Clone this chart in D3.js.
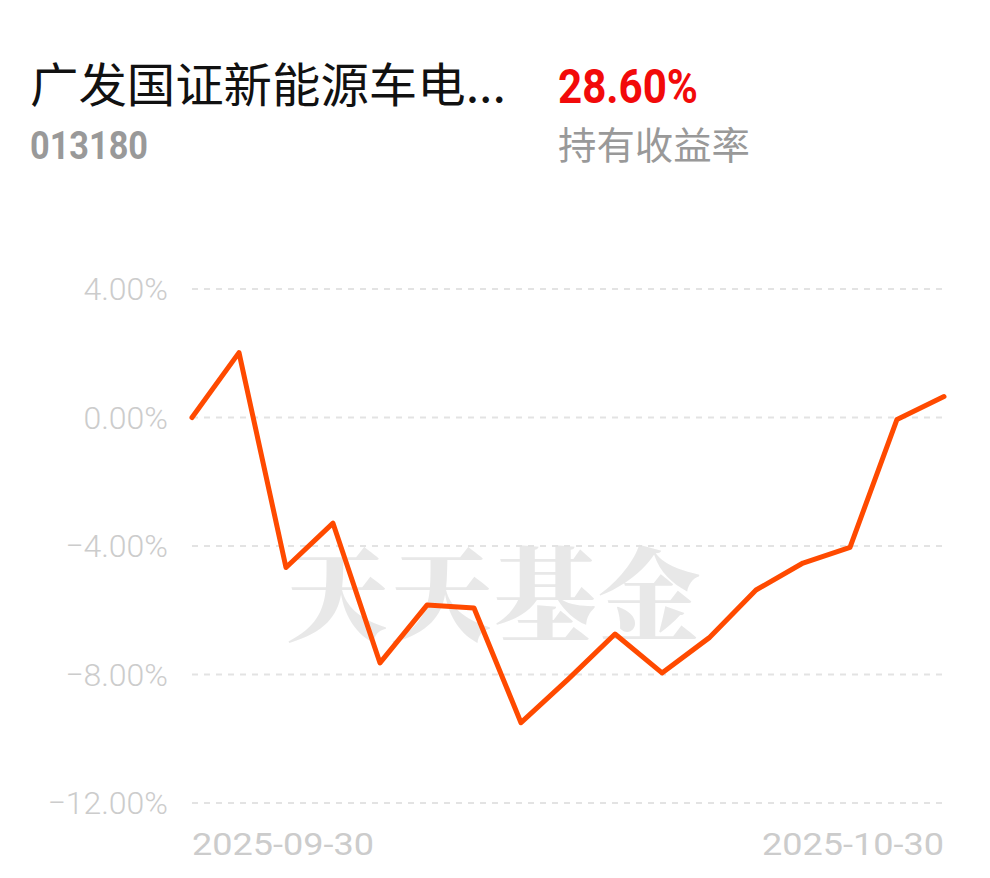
<!DOCTYPE html>
<html><head><meta charset="utf-8">
<script src="https://cdn.jsdelivr.net/npm/d3@7/dist/d3.min.js"></script>
<style>html,body{margin:0;padding:0;background:#fff;}svg{display:block;}</style>
</head><body><svg id="c" width="990" height="878"></svg>
<script>
const fundName = "广发国证新能源车电...";
const fundCode = "013180";
const holdReturn = "28.60%";
const holdLabel = "持有收益率";
const dates = ["2025-09-30","2025-10-01","2025-10-09","2025-10-10","2025-10-13","2025-10-14","2025-10-15","2025-10-16","2025-10-17","2025-10-20","2025-10-21","2025-10-22","2025-10-23","2025-10-24","2025-10-27","2025-10-28","2025-10-30"];
const values = [0.00, 2.02, -4.67, -3.29, -7.64, -5.84, -5.93, -9.50, -8.15, -6.74, -7.95, -6.86, -5.37, -4.53, -4.04, -0.06, 0.65];
const yTicks = [4, 0, -4, -8, -12];
const xTickLabels = ["2025-09-30", "2025-10-30"];

const svg = d3.select("#c");
const left = 192, right = 944;
const x = d3.scalePoint().domain(dates).range([left, right]);
const y = d3.scaleLinear().domain([-12, 4]).range([803, 289]);

// header
svg.append("text").attr("x", 30).attr("y", 102).attr("font-family", "Noto Sans CJK SC")
  .attr("font-size", 47).attr("fill", "#111")
  .attr("textLength", 476).attr("lengthAdjust", "spacingAndGlyphs").text(fundName);
svg.append("text").attr("x", 30).attr("y", 159).attr("font-family", "Roboto, sans-serif")
  .attr("font-weight", 700).attr("font-size", 38).attr("fill", "#999")
  .attr("textLength", 118).attr("lengthAdjust", "spacingAndGlyphs").text(fundCode);
svg.append("text").attr("x", 558).attr("y", 103).attr("font-family", "Roboto, sans-serif")
  .attr("font-weight", 700).attr("font-size", 49).attr("fill", "#f20a0a")
  .attr("textLength", 140).attr("lengthAdjust", "spacingAndGlyphs").text(holdReturn);
svg.append("text").attr("x", 558).attr("y", 159).attr("font-family", "Noto Sans CJK SC")
  .attr("font-size", 38).attr("fill", "#999")
  .attr("textLength", 192).attr("lengthAdjust", "spacingAndGlyphs").text(holdLabel);

// watermark
svg.append("text").attr("x", 494).attr("y", 633).attr("text-anchor", "middle")
  .attr("font-family", "Noto Serif CJK SC, Noto Sans CJK SC").attr("font-weight", 900)
  .attr("font-size", 102).attr("fill", "#e8e8e8").attr("letter-spacing", 2).text("天天基金");

// grid
svg.append("g").selectAll("line").data(yTicks).join("line")
  .attr("x1", left).attr("x2", right).attr("y1", d => y(d)).attr("y2", d => y(d))
  .attr("stroke", "#e3e3e3").attr("stroke-width", 2).attr("stroke-dasharray", "6,6");

// y labels
svg.append("g").selectAll("text").data(yTicks).join("text")
  .attr("x", 168).attr("y", d => y(d) + 11).attr("text-anchor", "end")
  .attr("font-family", "Roboto, sans-serif").attr("font-weight", 300).attr("font-size", 32).attr("fill", "#cccccc")
  .text(d => d3.format(".2f")(d) + "%");

// x labels
svg.append("text").attr("x", x(xTickLabels[0])).attr("y", 855)
  .attr("font-family", "Roboto, sans-serif").attr("font-size", 32).attr("fill", "#cccccc")
  .attr("textLength", 182).attr("lengthAdjust", "spacingAndGlyphs").text(xTickLabels[0]);
svg.append("text").attr("x", x(dates[dates.length-1])).attr("y", 855).attr("text-anchor", "end")
  .attr("font-family", "Roboto, sans-serif").attr("font-size", 32).attr("fill", "#cccccc")
  .attr("textLength", 182).attr("lengthAdjust", "spacingAndGlyphs").text(xTickLabels[1]);

// line
const line = d3.line().x((d, i) => x(dates[i])).y(d => y(d));
svg.append("path").datum(values).attr("d", line).attr("fill", "none")
  .attr("stroke", "#ff4a00").attr("stroke-width", 5).attr("stroke-linejoin", "round").attr("stroke-linecap", "round");
</script></body></html>
